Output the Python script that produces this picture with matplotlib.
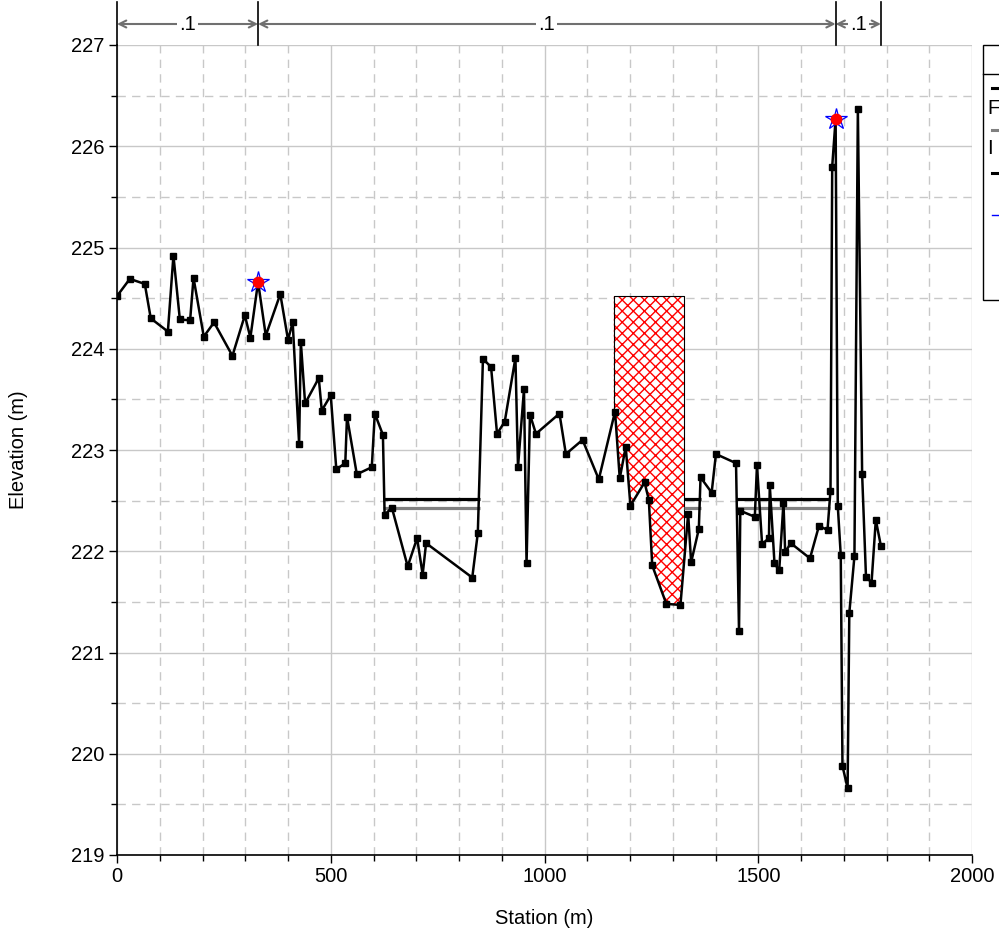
import numpy as np
import matplotlib
matplotlib.use("Agg")
from matplotlib import pyplot as plt
from matplotlib import ticker, transforms
from matplotlib.lines import Line2D
from matplotlib.patches import Rectangle

plt.rcParams['font.family'] = ['Liberation Sans', 'DejaVu Sans']

# ground profile (station, elevation)
station = [0, 30, 65, 79, 119, 132, 147, 171, 179, 203, 227, 270, 299, 312, 330, 348,
           382, 400, 411, 426, 430, 440, 472, 479, 500, 513, 534, 538, 561, 596, 603,
           622, 626, 643, 680, 702, 715, 723, 831, 844, 856, 875, 889, 907, 932, 938,
           952, 958, 966, 980, 1035, 1050, 1089, 1127, 1165, 1176, 1190, 1201, 1234,
           1244, 1252, 1285, 1318, 1336, 1343, 1361, 1365, 1391, 1401, 1448, 1455,
           1458, 1492, 1497, 1509, 1525, 1527, 1538, 1549, 1559, 1563, 1576, 1621,
           1642, 1662, 1669, 1673, 1681, 1686, 1693, 1697, 1709, 1713, 1725, 1733,
           1743, 1752, 1765, 1775, 1787]
elevation = [224.52, 224.69, 224.64, 224.30, 224.17, 224.92, 224.29, 224.28, 224.70,
             224.12, 224.26, 223.93, 224.33, 224.11, 224.66, 224.13, 224.54, 224.09,
             224.26, 223.06, 224.07, 223.46, 223.71, 223.39, 223.54, 222.81, 222.87,
             223.33, 222.76, 222.83, 223.36, 223.15, 222.36, 222.43, 221.85, 222.13,
             221.77, 222.08, 221.74, 222.18, 223.90, 223.82, 223.16, 223.28, 223.91,
             222.83, 223.60, 221.88, 223.35, 223.16, 223.36, 222.96, 223.10, 222.71,
             223.38, 222.72, 223.03, 222.45, 222.68, 222.51, 221.86, 221.48, 221.47,
             222.37, 221.89, 222.22, 222.73, 222.58, 222.96, 222.87, 221.21, 222.40,
             222.34, 222.85, 222.07, 222.13, 222.65, 221.88, 221.81, 222.48, 221.99,
             222.08, 221.93, 222.25, 222.21, 222.60, 225.80, 226.27, 222.45, 221.96,
             219.88, 219.66, 221.39, 221.95, 226.37, 222.76, 221.75, 221.69, 222.31,
             222.05]

# levees
levee_sta = [330, 1681]
levee_elev = [224.66, 226.27]

# ineffective flow areas
ineff_left = [622, 955, 1327, 1448]
ineff_right = [849, 961, 1365, 1669]
ineff_elev_1 = 222.52
ineff_elev_2 = 222.43

# blocked obstruction
block_left = 1162
block_right = 1327
block_top = 224.52

# reach lengths / dimension lines
dim_sta = [0, 330, 1681, 1787]
dim_labels = [".1", ".1", ".1"]

FS = 14.5

fig = plt.figure(figsize=(9.99, 9.35), dpi=100)
ax = fig.add_axes([117 / 999, 1 - 855 / 935, 855 / 999, 810 / 935])

sta = np.array(station, dtype=float)
elev = np.array(elevation)

# obstruction fill between ground and top
mask = (sta > block_left) & (sta < block_right)
bx = np.concatenate([[block_left], sta[mask], [block_right]])
by = np.interp(bx, sta, elev)
ax.fill_between(bx, by, block_top, facecolor="white", edgecolor="red",
                hatch="xxx", linewidth=0, zorder=2)
ax.plot([block_left, block_left, block_right, block_right],
        [by[0], block_top, block_top, by[-1]], color="black", lw=0.8, zorder=3)

# ineffective lines
for l, r in zip(ineff_left, ineff_right):
    ax.plot([l, r], [ineff_elev_1, ineff_elev_1], color="black", lw=2.3, zorder=3,
            solid_capstyle="butt")
    ax.plot([l, r], [ineff_elev_2, ineff_elev_2], color="#808080", lw=2.3, zorder=3,
            solid_capstyle="butt")

# ground
ax.plot(sta, elev, color="black", lw=1.8, marker="s", markersize=5, zorder=4)

# levees
ax.plot(levee_sta, levee_elev, linestyle="none", marker="*", markersize=16,
        markerfacecolor="none", markeredgecolor="blue", markeredgewidth=0.9, zorder=5)
ax.plot(levee_sta, levee_elev, linestyle="none", marker="o", markersize=7.5,
        color="red", zorder=6)

ax.set_xlim(0, 2000)
ax.set_ylim(219, 227)
ax.xaxis.set_major_locator(ticker.MultipleLocator(500))
ax.xaxis.set_minor_locator(ticker.MultipleLocator(100))
ax.yaxis.set_major_locator(ticker.MultipleLocator(1))
ax.yaxis.set_minor_locator(ticker.MultipleLocator(0.5))
ax.grid(which="major", color="#c8c8c8", lw=1.0)
ax.grid(which="minor", color="#c8c8c8", lw=1.0, linestyle=(0, (6, 4.5)))
ax.set_axisbelow(True)
ax.tick_params(which="major", length=6, width=1, labelsize=FS, pad=3)
ax.tick_params(which="minor", length=4, width=1)
for s in ["top", "right"]:
    ax.spines[s].set_visible(False)
for s in ["left", "bottom"]:
    ax.spines[s].set_linewidth(1.2)

ax.set_xlabel("Station (m)", fontsize=FS, labelpad=16)
ax.set_ylabel("Elevation (m)", fontsize=FS, labelpad=31)

# reach length dimension lines above the plot
trans = transforms.blended_transform_factory(ax.transData, ax.transAxes)
y_top = (855 - 2) / 810
y_arr = (855 - 24) / 810
for s in dim_sta:
    ax.plot([s, s], [1.0, y_top], color="black", lw=1.2, transform=trans, clip_on=False)
for (a, b), lab in zip(zip(dim_sta[:-1], dim_sta[1:]), dim_labels):
    ax.annotate("", xy=(b, y_arr), xytext=(a, y_arr), xycoords=trans, textcoords=trans,
                arrowprops=dict(arrowstyle="<->,head_length=0.5,head_width=0.25",
                                color="#707070", lw=1.5, shrinkA=0, shrinkB=0))
    ax.text((a + b) / 2, y_arr, lab, transform=trans, ha="center", va="center",
            fontsize=FS, bbox=dict(facecolor="white", edgecolor="none", pad=1.5))

# legend box (clipped at figure edge)
def fx(px):
    return px / 999

def fy(py):
    return 1 - py / 935

fig.add_artist(Rectangle((fx(983), fy(300)), fx(60), fy(45) - fy(300),
                         transform=fig.transFigure, facecolor="white",
                         edgecolor="black", lw=1.0))
fig.add_artist(Line2D([fx(983), fx(1040)], [fy(74), fy(74)], transform=fig.transFigure,
                      color="black", lw=1.0))
legend_items = [("black", 88, "F", 108), ("#808080", 130, "I", 149),
                ("black", 173, None, None), ("blue", 215, None, None)]
for col, ly, lab, ty in legend_items:
    lw = 1.0 if col == "blue" else 2.2
    fig.add_artist(Line2D([fx(992), fx(1010)], [fy(ly), fy(ly)],
                          transform=fig.transFigure, color=col, lw=lw))
    if lab:
        fig.text(fx(987), fy(ty), lab, fontsize=FS, va="center", ha="left")

fig.savefig("out.png", dpi=100)
